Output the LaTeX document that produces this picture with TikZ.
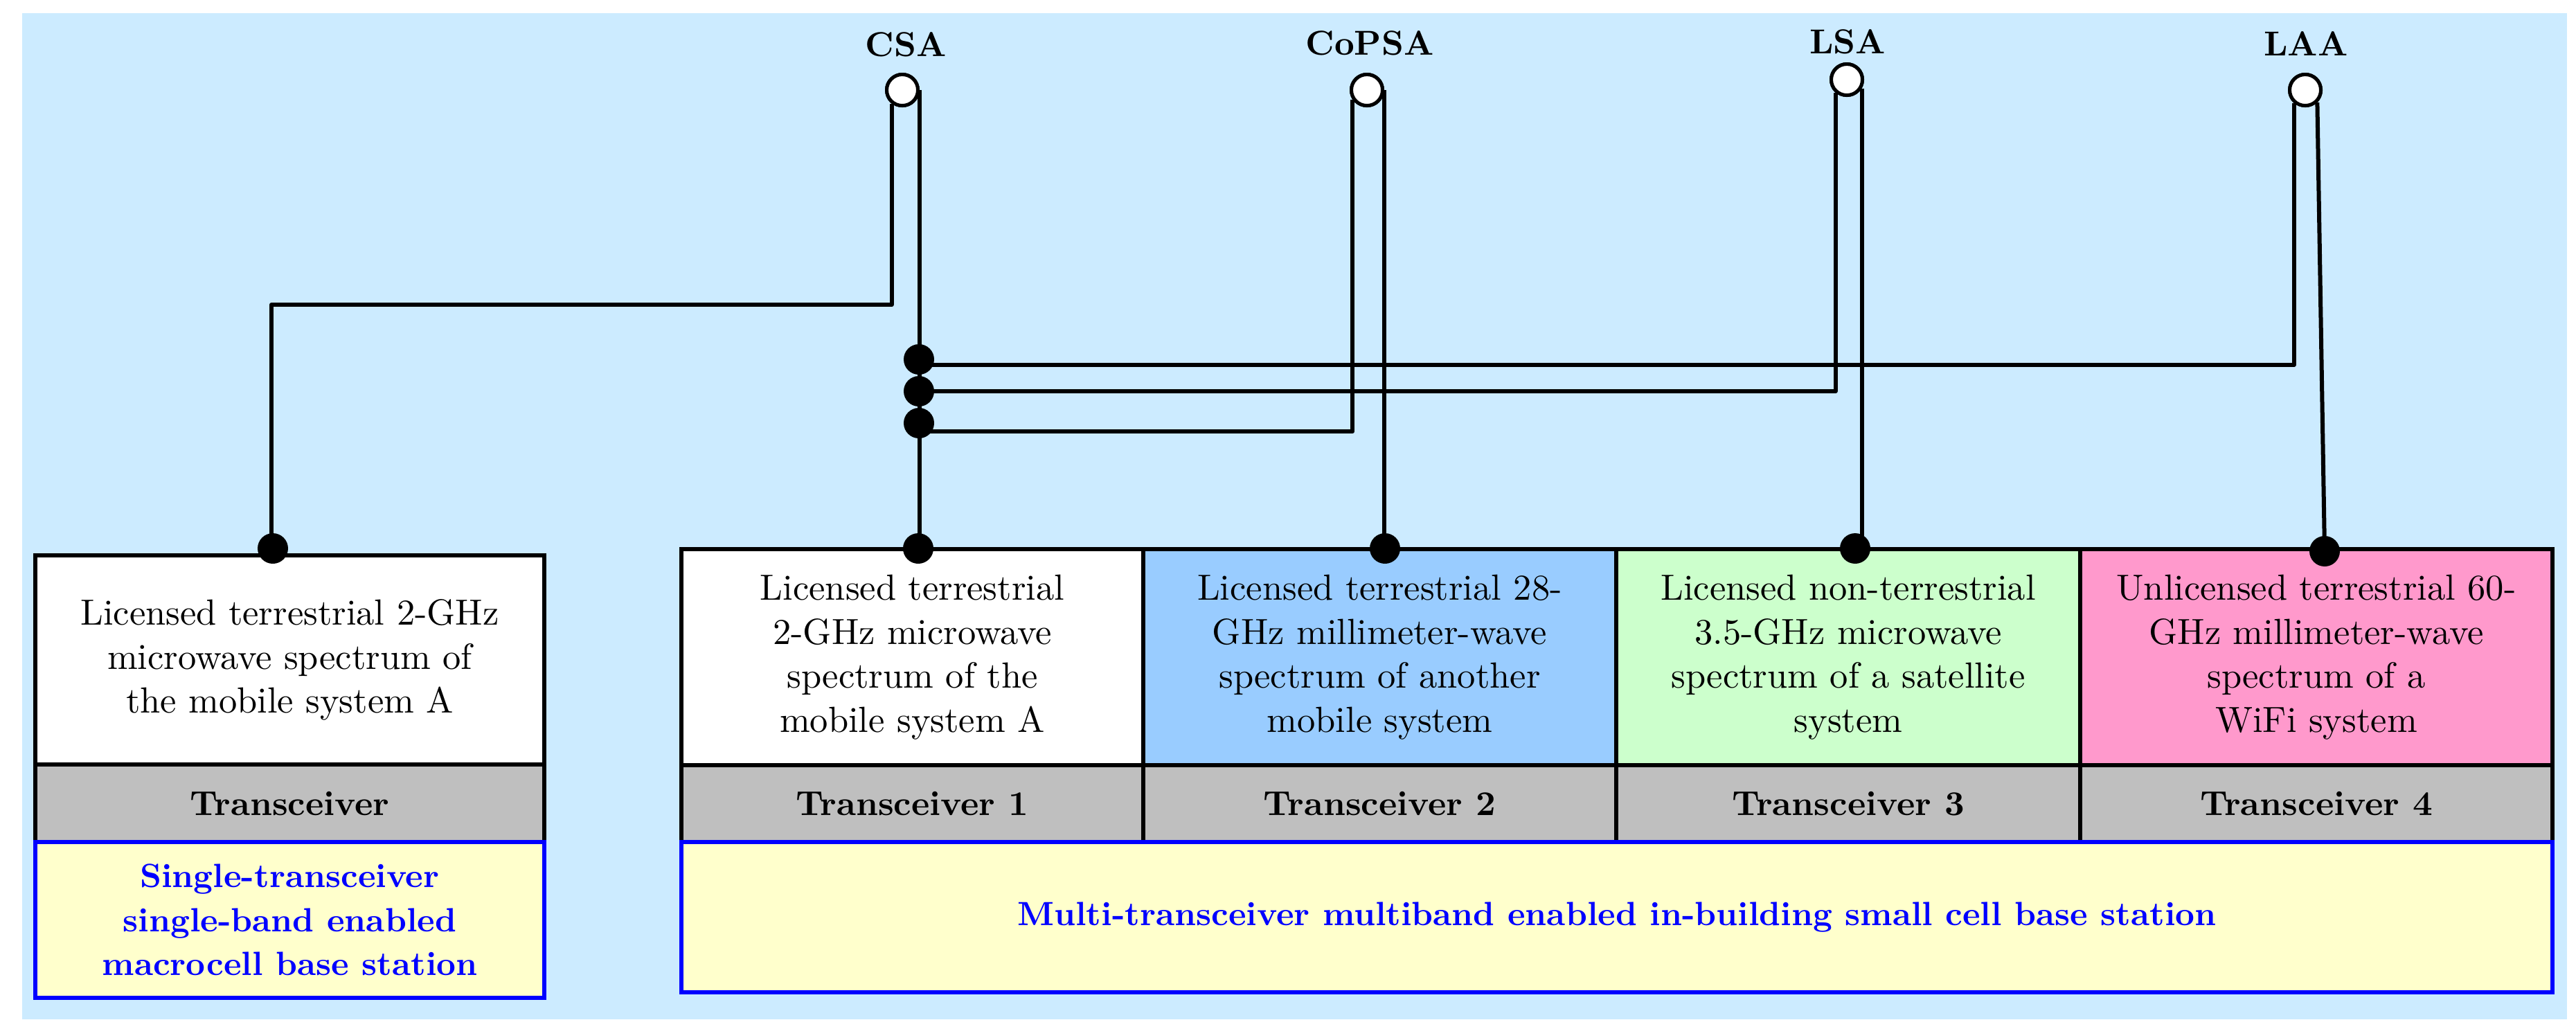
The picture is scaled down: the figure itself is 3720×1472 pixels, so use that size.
\documentclass[tikz,border=0pt]{standalone}
\usetikzlibrary{calc}
\definecolor{bgblue}{RGB}{204,235,255}
\definecolor{cellblue}{RGB}{153,204,255}
\definecolor{cellgreen}{RGB}{204,255,204}
\definecolor{cellpink}{RGB}{255,153,204}
\definecolor{cellgray}{RGB}{191,191,191}
\definecolor{cellyellow}{RGB}{255,255,204}
\definecolor{textblue}{RGB}{0,0,255}
\begin{document}
\begin{tikzpicture}[x=0.2pt,y=-0.2pt,
  sz/.style 2 args={minimum width=#1*0.2pt, minimum height=#2*0.2pt},
  cellbox/.style={draw=black, line width=1.1pt, inner sep=0pt, align=center,
    font=\fontsize{10.5}{12.7}\selectfont},
  trbox/.style={cellbox, fill=cellgray, font=\fontsize{10}{12}\selectfont\bfseries},
  bsbox/.style={draw=textblue, line width=1.2pt, fill=cellyellow, inner sep=0pt,
    align=center, text=textblue, font=\fontsize{9.7}{12.7}\selectfont\bfseries},
  wire/.style={line width=1.2pt, line join=round},
  jdot/.style={circle, fill=black, inner sep=0pt, minimum size=8.8pt},
  antenna/.style={circle, draw=black, fill=white, line width=1pt, inner sep=0pt, minimum size=9pt},
  alabel/.style={anchor=base, font=\fontsize{10}{12}\selectfont\bfseries}]
\useasboundingbox (0,0) rectangle (3720,1472);
\fill[bgblue] (32,19) rectangle (3707,1472);

% macrocell base station
\node[cellbox, fill=white, sz={735}{302}] (mtop) at (418.5,953)
  {Licensed terrestrial 2-GHz\\microwave spectrum of\\the mobile system A};
\node[trbox, sz={735}{112}] (mtr) at (418.5,1160) {Transceiver};
\node[bsbox, sz={735}{225}] (mbs) at (418.5,1328.5)
  {Single-transceiver\\single-band enabled\\macrocell base station};

% small cell base station
\node[cellbox, fill=white, sz={667}{312}] (s1) at (1317.5,949)
  {Licensed terrestrial\\2-GHz microwave\\spectrum of the\\mobile system A};
\node[cellbox, fill=cellblue, sz={683}{312}] (s2) at (1992.5,949)
  {Licensed terrestrial 28-\\GHz millimeter-wave\\spectrum of another\\mobile system};
\node[cellbox, fill=cellgreen, sz={670}{312}] (s3) at (2669,949)
  {Licensed non-terrestrial\\3.5-GHz microwave\\spectrum of a satellite\\system};
\node[cellbox, fill=cellpink, sz={682}{312}] (s4) at (3345,949)
  {Unlicensed terrestrial 60-\\GHz millimeter-wave\\spectrum of a\\WiFi system};
\node[trbox, sz={667}{111}] (t1) at (1317.5,1160.5) {Transceiver 1};
\node[trbox, sz={683}{111}] (t2) at (1992.5,1160.5) {Transceiver 2};
\node[trbox, sz={670}{111}] (t3) at (2669,1160.5) {Transceiver 3};
\node[trbox, sz={682}{111}] (t4) at (3345,1160.5) {Transceiver 4};
\node[bsbox, sz={2702}{217}] (sbs) at (2335,1324.5)
  {Multi-transceiver multiband enabled in-building small cell base station};

% antennas
\node[antenna] (csa) at (1303,130) {};
\node[antenna] (copsa) at (1974,130) {};
\node[antenna] (lsa) at (2667,115) {};
\node[antenna] (laa) at (3329,130) {};
\node[alabel] (csal) at (1308,81) {CSA};
\node[alabel] (copsal) at (1978,79) {CoPSA};
\node[alabel] (lsal) at (2668,77) {LSA};
\node[alabel] (laal) at (3330,80) {LAA};

% junction points
\coordinate (k1) at (392,440);
\coordinate (md) at (394,792);
\coordinate (d1) at (1326,792);
\coordinate (d2) at (2000,792);
\coordinate (d3) at (2679,792);
\coordinate (d4) at (3357,796);
\coordinate (j1) at (1327,519);
\coordinate (j2) at (1327,565);
\coordinate (j3) at (1327,611);

% wires
\draw[wire] (csa.-128) |- (k1) -- (k1 |- md);
\draw[wire] (csa.east) -- (csa.east |- d1);
\draw[wire] ($(j1)+(0,8)$) -| (laa.-131);
\draw[wire] (j2) -| (lsa.-131);
\draw[wire] ($(j3)+(0,12)$) -| (copsa.-146);
\draw[wire] (copsa.east) -- (copsa.east |- d2);
\draw[wire] (lsa.-30) -- (lsa.-30 |- d3);
\draw[wire] (laa.-46) -- (d4);

% dots
\node[jdot] (md-dot) at (md) {};
\node[jdot] (d1-dot) at (d1) {};
\node[jdot] (d2-dot) at (d2) {};
\node[jdot] (d3-dot) at (d3) {};
\node[jdot] (d4-dot) at (d4) {};
\node[jdot] (j1-dot) at (j1) {};
\node[jdot] (j2-dot) at (j2) {};
\node[jdot] (j3-dot) at (j3) {};

% redraw antennas on top
\node[antenna] at (csa) {};
\node[antenna] at (copsa) {};
\node[antenna] at (lsa) {};
\node[antenna] at (laa) {};
\end{tikzpicture}
\end{document}
